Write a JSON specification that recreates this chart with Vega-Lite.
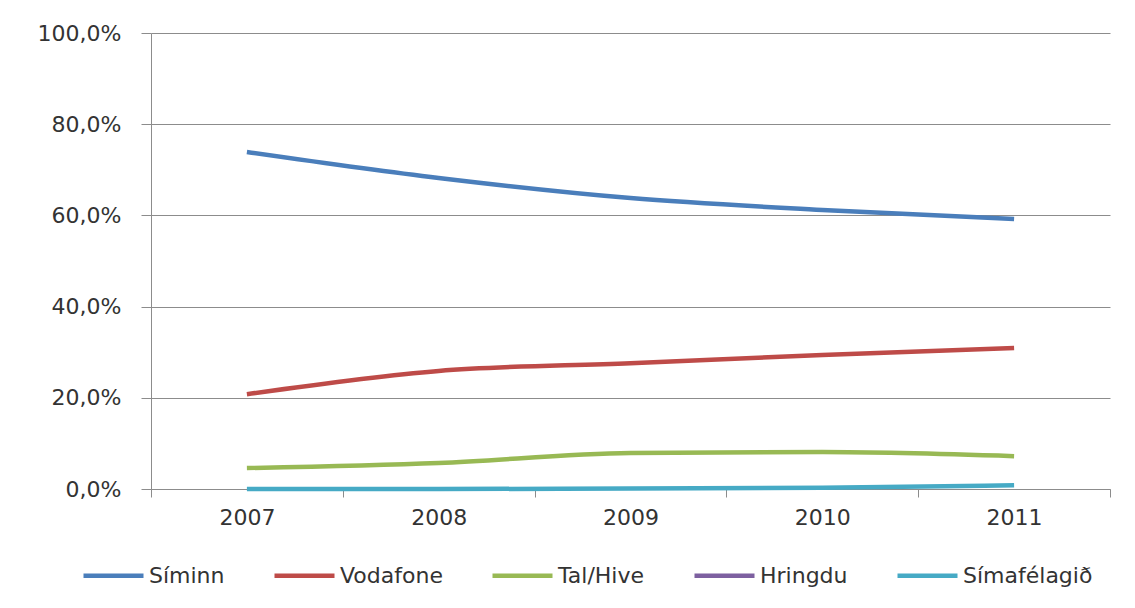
{
  "$schema": "https://vega.github.io/schema/vega-lite/v6.json",
  "autosize": {"type": "none"},
  "width": 959,
  "height": 456,
  "padding": {"left": 151, "top": 33, "right": 25, "bottom": 119},
  "background": "white",
  "config": {
    "locale": {"number": {"decimal": ",", "thousands": ".", "grouping": [3], "currency": ["", " kr."]}},
    "font": "DejaVu Sans",
    "view": {"stroke": null},
    "axis": {"labelFont": "DejaVu Sans", "labelColor": "#333333", "labelFontSize": 22, "domainColor": "#8c8c8c", "tickColor": "#8c8c8c", "gridColor": "#8c8c8c"}
  },
  "data": {
    "values": [
      {"year": "2007", "company": "Síminn", "share": 0.739},
      {"year": "2008", "company": "Síminn", "share": 0.682},
      {"year": "2009", "company": "Síminn", "share": 0.638},
      {"year": "2010", "company": "Síminn", "share": 0.612},
      {"year": "2011", "company": "Síminn", "share": 0.592},
      {"year": "2007", "company": "Vodafone", "share": 0.208},
      {"year": "2008", "company": "Vodafone", "share": 0.259},
      {"year": "2009", "company": "Vodafone", "share": 0.276},
      {"year": "2010", "company": "Vodafone", "share": 0.294},
      {"year": "2011", "company": "Vodafone", "share": 0.309},
      {"year": "2007", "company": "Tal/Hive", "share": 0.046},
      {"year": "2008", "company": "Tal/Hive", "share": 0.057},
      {"year": "2009", "company": "Tal/Hive", "share": 0.079},
      {"year": "2010", "company": "Tal/Hive", "share": 0.081},
      {"year": "2011", "company": "Tal/Hive", "share": 0.072},
      {"year": "2007", "company": "Hringdu", "share": null},
      {"year": "2008", "company": "Hringdu", "share": null},
      {"year": "2009", "company": "Hringdu", "share": null},
      {"year": "2010", "company": "Hringdu", "share": null},
      {"year": "2011", "company": "Hringdu", "share": null},
      {"year": "2007", "company": "Símafélagið", "share": 0.0},
      {"year": "2008", "company": "Símafélagið", "share": 0.0},
      {"year": "2009", "company": "Símafélagið", "share": 0.001},
      {"year": "2010", "company": "Símafélagið", "share": 0.003},
      {"year": "2011", "company": "Símafélagið", "share": 0.008}
    ]
  },
  "mark": {"type": "line", "strokeWidth": 4.5, "interpolate": "monotone"},
  "encoding": {
    "x": {
      "field": "year", "type": "ordinal",
      "scale": {"paddingInner": 0, "paddingOuter": 0},
      "axis": {"title": null, "labelAngle": 0, "tickBand": "extent", "tickSize": 8, "labelPadding": 10, "grid": false, "domainWidth": 1}
    },
    "y": {
      "field": "share", "type": "quantitative",
      "scale": {"domain": [0, 1]},
      "axis": {"title": null, "format": ".1%", "values": [0, 0.2, 0.4, 0.6, 0.8, 1.0], "tickSize": 10, "labelPadding": 20, "grid": true, "gridWidth": 1}
    },
    "color": {
      "field": "company", "type": "nominal",
      "scale": {
        "domain": ["Síminn", "Vodafone", "Tal/Hive", "Hringdu", "Símafélagið"],
        "range": ["#4a7ebb", "#be4b48", "#98b954", "#7d60a0", "#46aac5"]
      },
      "legend": {
        "title": null, "orient": "none", "direction": "horizontal",
        "legendX": -70, "legendY": 510,
        "symbolType": "stroke", "symbolStrokeWidth": 4.5, "symbolSize": 3600,
        "labelFontSize": 22, "labelFont": "DejaVu Sans", "labelColor": "#333333",
        "columnPadding": 40, "labelOffset": 3
      }
    }
  }
}
